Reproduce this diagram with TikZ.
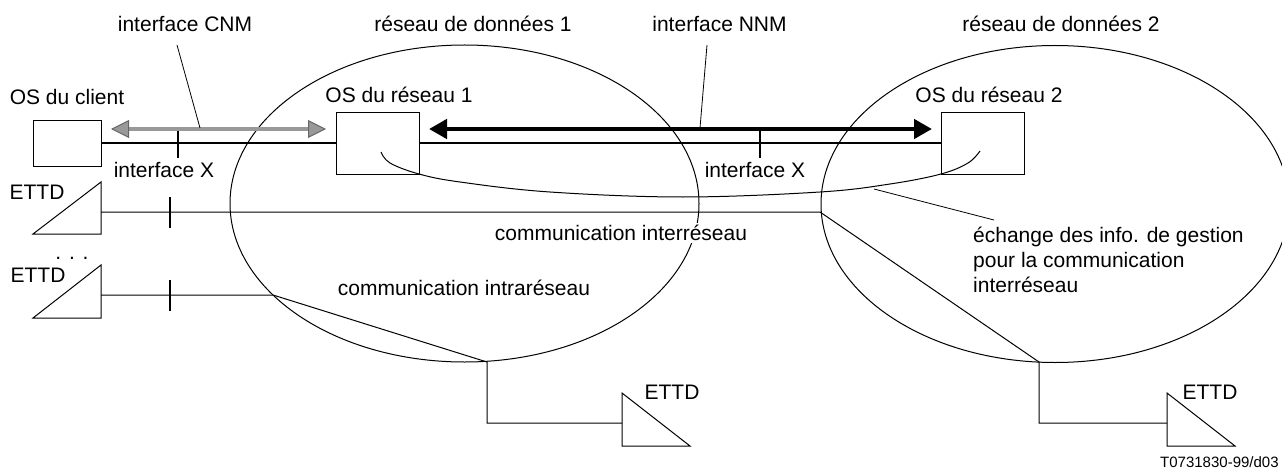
\documentclass[tikz,border=0pt]{standalone}
\usepackage{fontspec}
\setmainfont{Liberation Sans}
\usetikzlibrary{arrows.meta,shapes.geometric}
\tikzset{
    osbox/.style={draw,line width=1pt,inner sep=0pt},
    reseau/.style={draw,ellipse,line width=1pt,inner sep=0pt},
    label/.style={inner sep=0pt,font=\fontsize{21}{25}\selectfont},
    liaison/.style={line width=1pt},
    liaisonx/.style={line width=2pt},
    cnm/.style={line width=4pt,color=black!40,
        {Triangle[length=18pt,width=18pt,fill=black!40,color=black!60,line width=1pt]}-{Triangle[length=18pt,width=18pt,fill=black!40,color=black!60,line width=1pt]}},
    nnm/.style={line width=4.5pt,{Triangle[length=18pt,width=19pt]}-{Triangle[length=18pt,width=19pt]}},
}
\begin{document}
\begin{tikzpicture}[x=1pt,y=-1pt]
    \useasboundingbox (0,0) rectangle (1282,468);

    % Networks
    \node[reseau,minimum width=469pt,minimum height=317pt] (res1) at (464.5,203.5) {};
    \node[reseau,minimum width=468pt,minimum height=317pt] (res2) at (1055,204) {};

    % OS boxes
    \node[osbox,minimum width=68pt,minimum height=45pt] (osclient) at (67,143.5) {};
    \node[osbox,minimum width=83pt,minimum height=61pt] (osres1) at (377.5,143.5) {};
    \node[osbox,minimum width=83pt,minimum height=61pt] (osres2) at (982.5,143.5) {};

    % X interfaces
    \draw[liaisonx] (osclient.east) -- (osres1.west);
    \draw[liaisonx] (osres1.east) -- (osres2.west);
    \coordinate (tickxa) at (178,131);
    \coordinate (tickxb) at (178,158);
    \coordinate (tickxc) at (760,129);
    \coordinate (tickxd) at (760,158);
    \draw[line width=1.2pt] (tickxa) -- (tickxb);
    \draw[line width=1.2pt] (tickxc) -- (tickxd);

    % CNM and NNM arrows
    \coordinate (cnmleft) at (111,129);
    \coordinate (cnmright) at (326,129);
    \coordinate (nnmleft) at (429,129);
    \coordinate (nnmright) at (932,129);
    \draw[cnm] (cnmleft) -- (cnmright);
    \draw[nnm] (nnmleft) -- (nnmright);

    % Terminals
    \coordinate (ettda) at (101,212);
    \coordinate (ettdb) at (101,295);
    \coordinate (ettdc) at (622,423);
    \coordinate (ettdd) at (1167,423);
    \draw[liaison] (101,182) -- (101,234) -- (33,234) -- cycle;
    \draw[liaison] (101,265) -- (101,318) -- (33,318) -- cycle;
    \draw[liaison] (622,393) -- (622,446) -- (690,446) -- cycle;
    \draw[liaison] (1167,393) -- (1167,446) -- (1235,446) -- cycle;

    % Communications
    \coordinate (entreea) at (820,212);
    \coordinate (entreeb) at (273,295);
    \coordinate (basa) at (487,362);
    \coordinate (basb) at (1039,362);
    \draw[liaison] (ettda) -- (entreea) -- (basb) |- (ettdd);
    \draw[liaison] (ettdb) -- (entreeb) -- (basa) |- (ettdc);
    \draw[line width=1.2pt] (170,197) -- (170,228);
    \draw[line width=1.2pt] (170,280) -- (170,311);

    % Exchange of management information
    \draw[liaison] plot[smooth,tension=0.6] coordinates {(381,152) (390,163) (419,174) (460,182) (550,192)
        (683,197) (820,192) (890,184) (941,174) (968,163) (980,151)};

    % Leaders
    \node[label] (lcnm) at (185,24) {interface CNM};
    \node[label] at (473,24) {réseau de données 1};
    \node[label] (lnnm) at (719.5,24) {interface NNM};
    \node[label] at (1061,24) {réseau de données 2};
    \coordinate (leada) at (177,45);
    \coordinate (leadb) at (200,128);
    \coordinate (leadc) at (707,45);
    \coordinate (leadd) at (700,128);
    \coordinate (leade) at (874,189);
    \coordinate (leadf) at (994,220);
    \draw[line width=0.8pt] (leada) -- (leadb);
    \draw[line width=0.8pt] (leadc) -- (leadd);
    \draw[line width=0.8pt] (leade) -- (leadf);

    % Labels
    \node[label] at (67,97) {OS du client};
    \node[label] at (399,95) {OS du réseau 1};
    \node[label] at (989,95) {OS du réseau 2};
    \node[label] at (164,170) {interface X};
    \node[label] at (755,170) {interface X};
    \node[label] at (37,192) {ETTD};
    \node[label] at (38,275) {ETTD};
    \node[label] at (72,258) {. . .};
    \node[label] at (672,392) {ETTD};
    \node[label] at (1210,392) {ETTD};
    \node[label,fill=white,inner xsep=1pt,inner ysep=2pt] at (621,233) {communication interréseau};
    \node[label] at (464,288) {communication intraréseau};
    \node[label,anchor=north west,align=left] at (973,227) {échange des info. de gestion\\pour la communication\\interréseau};
    \node[inner sep=0pt,anchor=west,font=\fontsize{15}{15}\selectfont] at (1160,462) {T0731830-99/d03};
\end{tikzpicture}
\end{document}
